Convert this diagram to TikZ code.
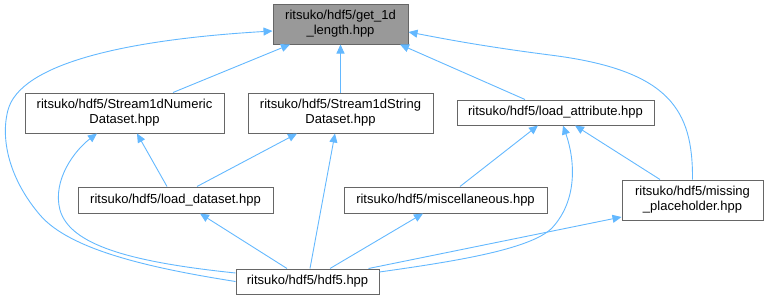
\documentclass[tikz,border=0pt]{standalone}
\usepackage{fontspec}
\setmainfont{Liberation Sans}
\usepackage{tikz}
\usetikzlibrary{arrows.meta}
\usepackage{xcolor}

\definecolor{edgeblue}{HTML}{63B8FF}
\definecolor{boxline}{HTML}{666666}
\definecolor{curfill}{HTML}{999999}

\tikzset{
    file/.style={draw=boxline, line width=1pt, fill=white, inner sep=0pt,
        align=center, font=\fontsize{13}{15}\selectfont},
    dep/.style={draw=edgeblue, line width=0.9pt, -{Triangle[length=9pt,width=8pt]}}
}

\begin{document}
\begin{tikzpicture}[x=1pt,y=-1pt]
        \useasboundingbox (0,0) rectangle (766,300);
        % Header files
        \node[file, fill=curfill, minimum width=135pt, minimum height=40pt] (get) at (340.5,24) {ritsuko/hdf5/get\_1d\\\_length.hpp};
        \node[file, minimum width=199pt, minimum height=40pt] (num) at (124.5,113) {ritsuko/hdf5/Stream1dNumeric\\Dataset.hpp};
        \node[file, minimum width=185pt, minimum height=40pt] (str) at (340.5,113) {ritsuko/hdf5/Stream1dString\\Dataset.hpp};
        \node[file, minimum width=197pt, minimum height=25pt] (attr) at (555.5,112.5) {ritsuko/hdf5/load\_attribute.hpp};
        \node[file, minimum width=195pt, minimum height=26pt] (dset) at (175.5,200) {ritsuko/hdf5/load\_dataset.hpp};
        \node[file, minimum width=203pt, minimum height=26pt] (misc) at (445.5,200) {ritsuko/hdf5/miscellaneous.hpp};
        \node[file, minimum width=141pt, minimum height=40pt] (miss) at (692.5,200) {ritsuko/hdf5/missing\\\_placeholder.hpp};
        \node[file, minimum width=143pt, minimum height=25pt] (hdf) at (307.5,281.5) {ritsuko/hdf5/hdf5.hpp};
        % Includes of get_1d_length
        \draw[dep] ([xshift=48.5pt]num.north) -- ([xshift=-50.5pt]get.south);
        \draw[dep] (str.north) -- (get.south);
        \draw[dep] ([xshift=-30.5pt]attr.north) -- ([xshift=59.5pt]get.south);
        \draw[dep] (miss.north) .. controls (693,110) and (670,70) .. (550,55)
            .. controls (480,46) and (440,38) .. ([yshift=-8pt]get.east);
        \draw[dep] (hdf.west) .. controls (150,268) and (70,250) .. (40,215)
            .. controls (10,180) and (0,140) .. (8,110)
            .. controls (20,65) and (120,40) .. ([yshift=-7pt]get.west);
        % Includes of the stream datasets
        \draw[dep] ([xshift=-8.5pt]dset.north) -- ([xshift=12.5pt]num.south);
        \draw[dep] ([xshift=21.5pt]dset.north) -- ([xshift=-43.5pt]str.south);
        \draw[dep] ([yshift=8.5pt]hdf.west) .. controls (130,262) and (70,245) .. (60,210)
            .. controls (52,180) and (75,150) .. ([xshift=-27.5pt]num.south);
        \draw[dep] ([xshift=2.5pt]hdf.north) -- ([xshift=-5.5pt]str.south);
        % Includes of load_attribute
        \draw[dep] ([xshift=14.5pt]misc.north) -- ([xshift=-17.5pt]attr.south);
        \draw[dep] ([xshift=-32.5pt]miss.north) -- ([xshift=19.5pt]attr.south);
        \draw[dep] ([yshift=9.5pt]hdf.east) .. controls (450,262) and (530,250) .. (552,228)
            .. controls (578,200) and (575,160) .. ([xshift=7.5pt]attr.south);
        % Includes of hdf5.hpp
        \draw[dep] ([xshift=-20.5pt]hdf.north) -- ([xshift=24.5pt]dset.south);
        \draw[dep] ([xshift=22.5pt]hdf.north) -- ([xshift=-22.5pt]misc.south);
        \draw[dep] ([xshift=-11pt]hdf.north east) -- ([yshift=-17pt]miss.west);
\end{tikzpicture}
\end{document}
